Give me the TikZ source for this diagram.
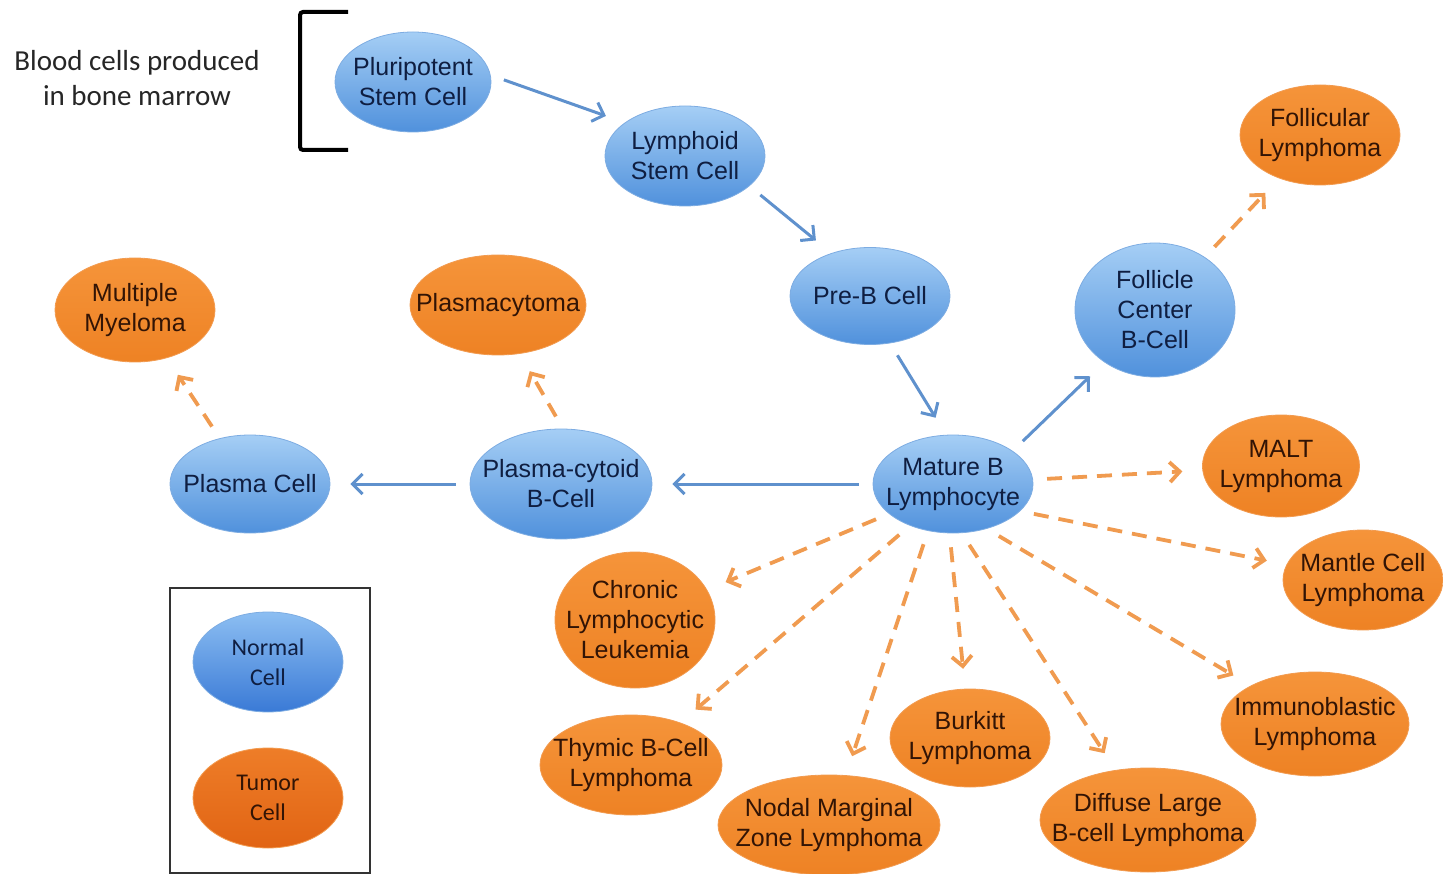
\documentclass[tikz,border=0pt]{standalone}
\usepackage{fontspec}
\setmainfont{Liberation Sans}
\newfontfamily\calibri{Carlito}
\usetikzlibrary{positioning, arrows.meta, shapes.geometric}

\definecolor{bluetop}{RGB}{165,206,245}
\definecolor{bluebottom}{RGB}{80,145,220}
\definecolor{blueedge}{RGB}{125,172,226}
\definecolor{orangetop}{RGB}{245,148,58}
\definecolor{orangebottom}{RGB}{238,130,36}
\definecolor{orangeedge}{RGB}{242,155,80}
\definecolor{bluetxt}{RGB}{15,30,65}
\definecolor{orangetxt}{RGB}{50,20,5}
\definecolor{arrowblue}{RGB}{95,145,205}
\definecolor{arroworange}{RGB}{240,155,80}
\definecolor{keybluetop}{RGB}{140,190,242}
\definecolor{keybluebottom}{RGB}{58,122,214}
\definecolor{keyorangetop}{RGB}{238,125,40}
\definecolor{keyorangebottom}{RGB}{225,100,20}

\tikzset{
  normalcell/.style={ellipse, draw=blueedge, line width=0.8pt, top color=bluetop, bottom color=bluebottom, inner sep=0pt},
  tumorcell/.style={ellipse, draw=orangeedge, line width=0.8pt, top color=orangetop, bottom color=orangebottom, inner sep=0pt},
  bluename/.style={align=center, text=bluetxt, font=\fontsize{25}{30}\selectfont},
  orangename/.style={align=center, text=orangetxt, font=\fontsize{25}{30}\selectfont},
  develop/.style={draw=arrowblue, line width=3pt, -{Straight Barb[length=10pt,width=20pt]}, shorten <=14pt, shorten >=20pt},
  transform/.style={draw=arroworange, line width=3.8pt, dash pattern=on 15pt off 10pt, -{Straight Barb[length=10pt,width=20pt]}, shorten <=14pt, shorten >=20pt}
}

\begin{document}
\begin{tikzpicture}[x=1pt,y=-1pt]
  \useasboundingbox (0,0) rectangle (1443,874);

  % bone marrow note
  \node[font=\calibri\fontsize{29}{35}\selectfont, text=black!85, align=center] (marrow) at (137,78) {Blood cells produced\\in bone marrow};
  \draw[line width=4pt, rounded corners=3pt] (348,12) -- (300,12) -- (300,150) -- (348,150);

  % normal cells
  \node[normalcell, minimum width=156pt, minimum height=100pt] (ps) at (413,82) {};
  \node[bluename] (ps-t) at (ps) {Pluripotent\\Stem Cell};
  \node[normalcell, minimum width=160pt, minimum height=100pt] (ls) at (685,156) {};
  \node[bluename] (ls-t) at (ls) {Lymphoid\\Stem Cell};
  \node[normalcell, minimum width=160pt, minimum height=97pt] (pb) at (870,296) {};
  \node[bluename] (pb-t) at (pb) {Pre-B Cell};
  \node[normalcell, minimum width=160pt, minimum height=134pt] (fc) at (1155,310) {};
  \node[bluename] (fc-t) at (fc) {Follicle\\Center\\B-Cell};
  \node[normalcell, minimum width=160pt, minimum height=98pt] (mb) at (953,484) {};
  \node[bluename] (mb-t) at (mb) {Mature B\\Lymphocyte};
  \node[normalcell, minimum width=182pt, minimum height=110pt] (pcb) at (561,484) {};
  \node[bluename] (pcb-t) at (pcb) {Plasma-cytoid\\B-Cell};
  \node[normalcell, minimum width=160pt, minimum height=98pt] (pc) at (250,484) {};
  \node[bluename] (pc-t) at (pc) {Plasma Cell};

  % tumor cells
  \node[tumorcell, minimum width=160pt, minimum height=100pt] (fl) at (1320,135) {};
  \node[orangename] (fl-t) at (fl) {Follicular\\Lymphoma};
  \node[tumorcell, minimum width=176pt, minimum height=100pt] (pm) at (498,305) {};
  \node[orangename] (pm-t) at (pm) {Plasmacytoma};
  \node[tumorcell, minimum width=160pt, minimum height=104pt] (mm) at (135,310) {};
  \node[orangename] (mm-t) at (mm) {Multiple\\Myeloma};
  \node[tumorcell, minimum width=157pt, minimum height=102pt] (malt) at (1281,466) {};
  \node[orangename] (malt-t) at (malt) {MALT\\Lymphoma};
  \node[tumorcell, minimum width=160pt, minimum height=100pt] (mcl) at (1363,580) {};
  \node[orangename] (mcl-t) at (mcl) {Mantle Cell\\Lymphoma};
  \node[tumorcell, minimum width=188pt, minimum height=104pt] (il) at (1315,724) {};
  \node[orangename] (il-t) at (il) {Immunoblastic\\Lymphoma};
  \node[tumorcell, minimum width=216pt, minimum height=104pt] (dl) at (1148,820) {};
  \node[orangename] (dl-t) at (dl) {Diffuse Large\\B-cell Lymphoma};
  \node[tumorcell, minimum width=160pt, minimum height=98pt] (bl) at (970,738) {};
  \node[orangename] (bl-t) at (bl) {Burkitt\\Lymphoma};
  \node[tumorcell, minimum width=222pt, minimum height=100pt] (nmz) at (829,825) {};
  \node[orangename] (nmz-t) at (nmz) {Nodal Marginal\\Zone Lymphoma};
  \node[tumorcell, minimum width=182pt, minimum height=100pt] (tbl) at (631,765) {};
  \node[orangename] (tbl-t) at (tbl) {Thymic B-Cell\\Lymphoma};
  \node[tumorcell, minimum width=160pt, minimum height=136pt] (cll) at (635,620) {};
  \node[orangename] (cll-t) at (cll) {Chronic\\Lymphocytic\\Leukemia};

  % development
  \draw[develop] (ps.5) -- (ls.151);
  \draw[develop] (ls.-25) -- (pb.132);
  \draw[develop] (pb.-67) -- (mb.98);
  \draw[develop] (mb.29) -- (fc.226);
  \draw[develop] (mb) -- (pcb);
  \draw[develop] (pcb) -- (pc);

  % malignant transformation
  \draw[transform] (fc) -- (fl);
  \draw[transform] (pc) -- (mm);
  \draw[transform] (pcb.88) -- (pm.-66);
  \draw[transform] (mb) -- (malt);
  \draw[transform] (mb.-22) -- (mcl);
  \draw[transform] (mb.-53) -- (il);
  \draw[transform] (mb.-80) -- (dl);
  \draw[transform] (mb.-94) -- (bl);
  \draw[transform] (mb.-118) -- (nmz);
  \draw[transform] (mb.-136) -- (tbl);
  \draw[transform] (mb.-155) -- (cll);

  % legend
  \draw[line width=1.3pt, draw=black!80] (170,588) rectangle (370,873);
  \node[ellipse, draw=blueedge, line width=0.8pt, top color=keybluetop, bottom color=keybluebottom, minimum width=150pt, minimum height=100pt, inner sep=0pt] (nc) at (268,662) {};
  \node[align=center, text=bluetxt, font=\calibri\fontsize{24}{30}\selectfont] (nc-t) at (nc) {Normal\\Cell};
  \node[ellipse, draw=orangeedge, line width=0.8pt, top color=keyorangetop, bottom color=keyorangebottom, minimum width=150pt, minimum height=100pt, inner sep=0pt] (tc) at (268,798) {};
  \node[align=center, text=orangetxt, font=\calibri\fontsize{24}{30}\selectfont] (tc-t) at (tc) {Tumor\\Cell};
\end{tikzpicture}
\end{document}
